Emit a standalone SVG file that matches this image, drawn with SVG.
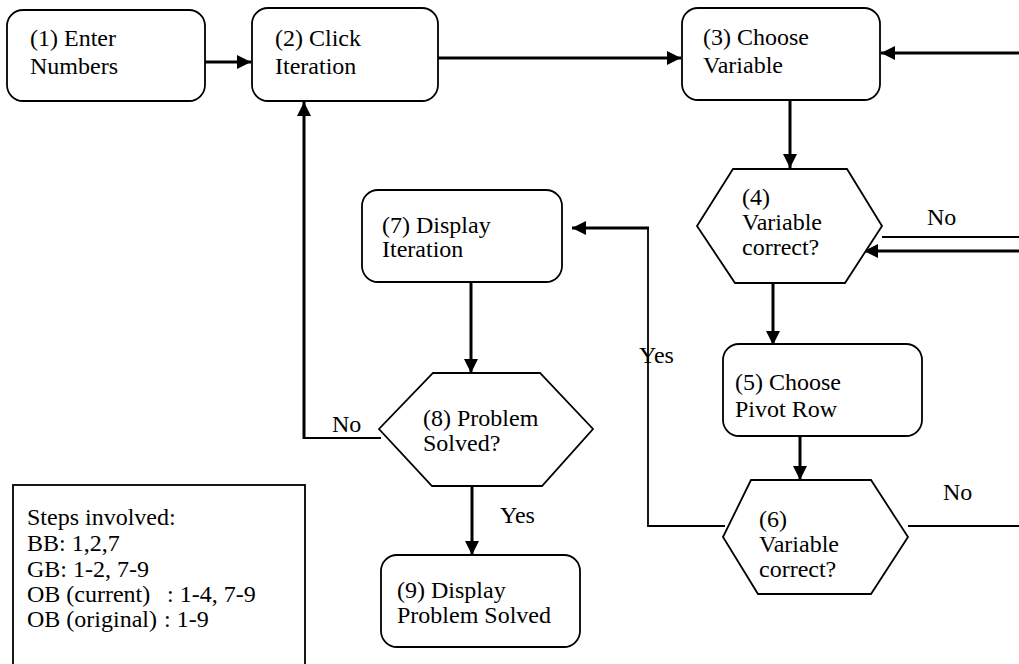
<svg xmlns="http://www.w3.org/2000/svg" width="1019" height="664" viewBox="0 0 1019 664">
  <style>
    .node { fill: #ffffff; stroke: #000000; stroke-width: 1.8; }
    .txt { font-family: "Liberation Serif", "Times New Roman", serif; font-size: 24px; fill: #000000; }
    .thick { fill: none; stroke: #000000; stroke-width: 3; }
    .thin { fill: none; stroke: #000000; stroke-width: 1.8; }
  </style>
  <defs>
    <marker id="arrow" markerUnits="userSpaceOnUse" markerWidth="16" markerHeight="16" refX="14" refY="7" orient="auto">
      <path d="M0,0 L14,7 L0,14 Z" fill="#000000"/>
    </marker>
  </defs>

  <rect width="1019" height="664" fill="#ffffff"/>

  <!-- connectors -->
  <g id="connectors">
    <line class="thick" x1="205" y1="62" x2="251" y2="62" marker-end="url(#arrow)"/>
    <line class="thick" x1="438" y1="58" x2="681" y2="58" marker-end="url(#arrow)"/>
    <line class="thick" x1="1019" y1="53" x2="881" y2="53" marker-end="url(#arrow)"/>
    <line class="thick" x1="790" y1="100" x2="790" y2="168" marker-end="url(#arrow)"/>
    <line class="thin" x1="882" y1="237" x2="1019" y2="237"/>
    <line class="thick" x1="1019" y1="251" x2="864" y2="251" marker-end="url(#arrow)"/>
    <line class="thick" x1="773" y1="283" x2="773" y2="345" marker-end="url(#arrow)"/>
    <line class="thick" x1="800" y1="436" x2="800" y2="480" marker-end="url(#arrow)"/>
    <line class="thin" x1="908" y1="526" x2="1019" y2="526"/>
    <polyline class="thin" points="725,526 648,526 648,228 600,228"/>
    <line class="thick" x1="649" y1="228" x2="572" y2="228" marker-end="url(#arrow)"/>
    <line class="thick" x1="471" y1="282" x2="471" y2="373" marker-end="url(#arrow)"/>
    <polyline class="thin" points="381,438 304,438 304,420"/>
    <line class="thick" x1="304" y1="439" x2="304" y2="102" marker-end="url(#arrow)"/>
    <line class="thick" x1="472" y1="486" x2="472" y2="555" marker-end="url(#arrow)"/>

    <text class="txt" x="927" y="225">No</text>
    <text class="txt" x="639" y="363">Yes</text>
    <text class="txt" x="943" y="500">No</text>
    <text class="txt" x="332" y="432">No</text>
    <text class="txt" x="500" y="523">Yes</text>
  </g>

  <!-- process steps -->
  <g id="step1">
    <rect class="node" x="7" y="10" width="198" height="91" rx="16"/>
    <text class="txt" x="30" y="46">(1) Enter</text>
    <text class="txt" x="30" y="74">Numbers</text>
  </g>
  <g id="step2">
    <rect class="node" x="252" y="8" width="186" height="93" rx="16"/>
    <text class="txt" x="275" y="46">(2) Click</text>
    <text class="txt" x="275" y="74">Iteration</text>
  </g>
  <g id="step3">
    <rect class="node" x="682" y="8" width="198" height="92" rx="16"/>
    <text class="txt" x="703" y="45">(3) Choose</text>
    <text class="txt" x="703" y="73">Variable</text>
  </g>
  <g id="step4">
    <polygon class="node" points="733,169 847,169 882,226 845,283 735,283 697,226"/>
    <text class="txt" x="742" y="205">(4)</text>
    <text class="txt" x="742" y="230">Variable</text>
    <text class="txt" x="742" y="255">correct?</text>
  </g>
  <g id="step5">
    <rect class="node" x="723" y="344" width="199" height="92" rx="16"/>
    <text class="txt" x="735" y="390">(5) Choose</text>
    <text class="txt" x="735" y="417">Pivot Row</text>
  </g>
  <g id="step6">
    <polygon class="node" points="751,480 871,480 908,537 871,594 758,594 723,537"/>
    <text class="txt" x="759" y="527">(6)</text>
    <text class="txt" x="759" y="552">Variable</text>
    <text class="txt" x="759" y="577">correct?</text>
  </g>
  <g id="step7">
    <rect class="node" x="362" y="190" width="200" height="92" rx="16"/>
    <text class="txt" x="382" y="233">(7) Display</text>
    <text class="txt" x="382" y="257">Iteration</text>
  </g>
  <g id="step8">
    <polygon class="node" points="433,373 540,373 593,429 542,486 432,486 379,429"/>
    <text class="txt" x="423" y="426">(8) Problem</text>
    <text class="txt" x="423" y="451">Solved?</text>
  </g>
  <g id="step9">
    <rect class="node" x="381" y="555" width="199" height="92" rx="16"/>
    <text class="txt" x="397" y="598">(9) Display</text>
    <text class="txt" x="397" y="623">Problem Solved</text>
  </g>

  <!-- legend -->
  <g id="legend">
    <rect x="13" y="485" width="292" height="190" fill="#ffffff" stroke="#000000" stroke-width="1.8"/>
    <text class="txt" x="27" y="525">Steps involved:</text>
    <text class="txt" x="27" y="551">BB: 1,2,7</text>
    <text class="txt" x="27" y="577">GB: 1-2, 7-9</text>
    <text class="txt" x="27" y="602">OB (current)</text>
    <text class="txt" x="167" y="602">: 1-4, 7-9</text>
    <text class="txt" x="27" y="627">OB (original)</text>
    <text class="txt" x="164" y="627">: 1-9</text>
  </g>
</svg>
